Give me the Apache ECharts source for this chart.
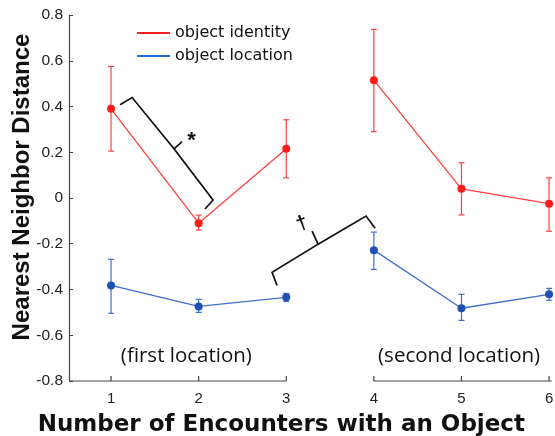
<!DOCTYPE html>
<html>
<head>
<meta charset="utf-8">
<script src="https://cdn.jsdelivr.net/npm/echarts@6/dist/echarts.min.js"></script>
<style>
html,body{margin:0;padding:0;background:#fff;}
#chart{width:555px;height:436px;}
</style>
</head>
<body>
<div id="chart"></div>
<script>
// values
var encounters = [1, 2, 3, 4, 5, 6];
var identityMean = [0.39, -0.11, 0.215, 0.515, 0.04, -0.025];
var identityLow = [0.205, -0.14, 0.088, 0.29, -0.074, -0.145];
var identityHigh = [0.575, -0.075, 0.342, 0.737, 0.154, 0.088];
var locationMean = [-0.382, -0.474, -0.434, -0.228, -0.482, -0.421];
var locationLow = [-0.504, -0.5, -0.452, -0.312, -0.535, -0.447];
var locationHigh = [-0.268, -0.443, -0.417, -0.149, -0.421, -0.395];
var yMin = -0.8, yMax = 0.8, yStep = 0.2;
var xMin = 0.52, xMax = 6.03;
// broken x axis: first location / second location
var axisSegments = [[xMin, 3], [4, xMax]];
// significance braces (data coords)
var braceStar = [[1.103, 0.408], [1.24, 0.439], [1.719, 0.215], [1.811, 0.246], [1.719, 0.215], [2.164, -0.009], [2.073, -0.048]];
var braceDagger = [[2.895, -0.382], [2.838, -0.325], [3.363, -0.202], [3.295, -0.145], [3.363, -0.202], [3.911, -0.079], [4.014, -0.132]];
var notes = [
  {text: '*', at: [1.92, 0.25], size: 22, rot: 0},
  {text: '\u2020', at: [3.18, -0.112], size: 20, rot: 0.35},
  {text: '(first location)', at: [1.86, -0.693], size: 20.5, rot: 0, font: 'Open Sans'},
  {text: '(second location)', at: [4.973, -0.693], size: 20.5, rot: 0, font: 'Open Sans'}
];

var red = '#ff1a1a', redLine = '#ff4040';
var blue = '#1f4fb5', blueLine = '#3f6fcc';
var sans = '"Liberation Sans", Arial, sans-serif';

// line data with a break between encounter 3 and 4
function lineData(mean) {
  var out = [];
  for (var i = 0; i < encounters.length; i++) {
    if (encounters[i] == 4) out.push([3.5, '-']);
    out.push([encounters[i], mean[i]]);
  }
  return out;
}
function barData(lo, hi) {
  return encounters.map(function (x, i) { return [x, lo[i], hi[i]]; });
}

function renderErrorBar(params, api) {
  var x = api.value(0);
  var lo = api.coord([x, api.value(1)]);
  var hi = api.coord([x, api.value(2)]);
  var w = 3;
  var style = {stroke: api.visual('color'), lineWidth: 1.2};
  return {type: 'group', children: [
    {type: 'line', shape: {x1: lo[0], y1: lo[1], x2: hi[0], y2: hi[1]}, style: style},
    {type: 'line', shape: {x1: lo[0] - w, y1: lo[1], x2: lo[0] + w, y2: lo[1]}, style: style},
    {type: 'line', shape: {x1: hi[0] - w, y1: hi[1], x2: hi[0] + w, y2: hi[1]}, style: style}
  ]};
}

function renderAxisSegment(params, api) {
  var a = api.value(0), b = api.value(1);
  var p0 = api.coord([a, yMin]), p1 = api.coord([b, yMin]);
  var style = {stroke: '#444', lineWidth: 1.2};
  var kids = [{type: 'line', shape: {x1: p0[0], y1: p0[1], x2: p1[0], y2: p1[1]}, style: style}];
  encounters.forEach(function (x) {
    if (x >= a && x <= b) {
      var p = api.coord([x, yMin]);
      kids.push({type: 'line', shape: {x1: p[0], y1: p[1], x2: p[0], y2: p[1] - 5}, style: style});
    }
  });
  return {type: 'group', children: kids};
}

function renderBrace(params, api) {
  var pts = [braceStar, braceDagger][params.dataIndex].map(function (p) { return api.coord(p); });
  return {type: 'polyline', shape: {points: pts}, style: {stroke: '#111', lineWidth: 1.7, fill: null}};
}

function renderNote(params, api) {
  var n = notes[params.dataIndex];
  var p = api.coord(n.at);
  return {type: 'text', x: p[0], y: p[1], rotation: n.rot,
    style: {text: n.text, fill: '#111', align: 'center', verticalAlign: 'middle',
      font: (n.font ? '' : 'bold ') + n.size + 'px ' + (n.font ? '"' + n.font + '"' : sans)}};
}

var chart = echarts.init(document.getElementById('chart'));
var option = {
  animation: false,
  textStyle: {fontFamily: sans},
  grid: {left: 69, right: 3.3, top: 15, bottom: 55, outerBoundsMode: 'none', containLabel: false},
  legend: {
    orient: 'vertical', left: 137, top: 25, padding: 0, itemGap: 7,
    icon: 'rect', itemWidth: 33, itemHeight: 2,
    textStyle: {fontSize: 16, color: '#111', fontFamily: 'DejaVu Sans', padding: [0, 0, 0, 0]},
    data: [
      {name: 'object identity', itemStyle: {color: '#ff2020'}},
      {name: 'object location', itemStyle: {color: '#1a6fd6'}}
    ]
  },
  xAxis: {
    type: 'value', min: xMin, max: xMax,
    axisLine: {show: false}, axisTick: {show: false}, splitLine: {show: false},
    axisLabel: {fontSize: 15, color: '#222', margin: 10, fontFamily: sans,
      formatter: function (v) { return encounters.indexOf(v) >= 0 ? String(v) : ''; }},
    name: 'Number of Encounters with an Object', nameLocation: 'middle', nameGap: 33,
    nameMoveOverlap: false,
    nameTextStyle: {fontSize: 23, fontWeight: 'bold', color: '#111', fontFamily: 'DejaVu Sans',
      padding: [0, 58, 0, 0]}
  },
  yAxis: {
    type: 'value', min: yMin, max: yMax, interval: yStep,
    axisLine: {show: true, lineStyle: {color: '#444', width: 1.2}},
    axisTick: {show: true, inside: true, length: 4, lineStyle: {color: '#444'}},
    splitLine: {show: false},
    axisLabel: {fontSize: 15.5, color: '#222', margin: 6, fontFamily: sans,
      formatter: function (v) { return v == 0 ? '0' : v.toFixed(1); }},
    name: 'Nearest Neighbor Distance', nameLocation: 'middle', nameGap: 35,
    nameMoveOverlap: false,
    nameTextStyle: {fontSize: 24, fontWeight: 'bold', color: '#111', fontFamily: sans,
      padding: [0, 0, 0, 22]}
  },
  series: [
    {type: 'custom', name: 'axis', renderItem: renderAxisSegment, data: axisSegments,
      encode: {x: [0, 1]}, silent: true, z: 1},
    {type: 'custom', name: 'identity err', renderItem: renderErrorBar,
      data: barData(identityLow, identityHigh), encode: {x: 0, y: [1, 2]},
      itemStyle: {color: redLine}, z: 2},
    {type: 'custom', name: 'location err', renderItem: renderErrorBar,
      data: barData(locationLow, locationHigh), encode: {x: 0, y: [1, 2]},
      itemStyle: {color: blueLine}, z: 2},
    {type: 'line', name: 'object identity', data: lineData(identityMean),
      symbol: 'circle', symbolSize: 8, connectNulls: false,
      lineStyle: {color: redLine, width: 1.3}, itemStyle: {color: red}, z: 3},
    {type: 'line', name: 'object location', data: lineData(locationMean),
      symbol: 'circle', symbolSize: 8, connectNulls: false,
      lineStyle: {color: blueLine, width: 1.3}, itemStyle: {color: blue}, z: 3},
    {type: 'custom', name: 'braces', renderItem: renderBrace,
      data: [braceStar[0], braceDagger[0]], encode: {x: 0, y: 1}, silent: true, z: 4},
    {type: 'custom', name: 'notes', renderItem: renderNote,
      data: notes.map(function (n) { return n.at; }), encode: {x: 0, y: 1}, silent: true, z: 4}
  ]
};
chart.setOption(option);
</script>
</body>
</html>
